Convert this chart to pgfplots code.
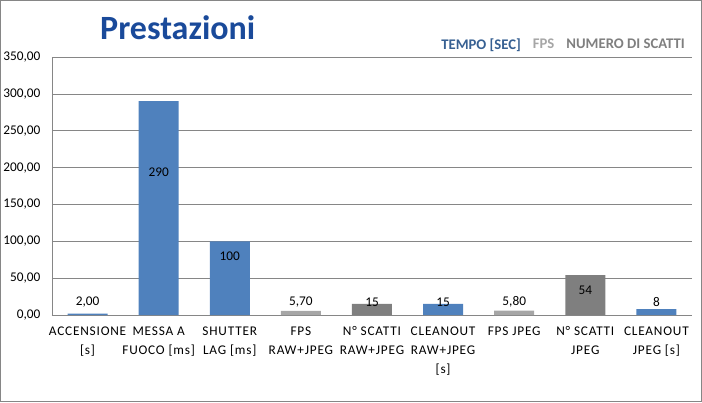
\documentclass[border=0pt]{standalone}
\usepackage{pgfplots}
\pgfplotsset{compat=1.18}
\usepackage{fontspec}
\setmainfont{Carlito}
\newfontfamily\xlfont[LetterSpace=6]{Carlito}
\definecolor{barblue}{HTML}{4F81BD}
\definecolor{barlight}{HTML}{A6A6A6}
\definecolor{bardark}{HTML}{7F7F7F}
\definecolor{titleblue}{HTML}{1A4A9A}
\definecolor{legblue}{HTML}{376092}
\definecolor{gridc}{HTML}{868686}
\begin{document}
\begin{tikzpicture}
\begin{axis}[
  name=ax,
  at={(0,0)}, anchor=south west,
  scale only axis,
  width=640pt, height=258pt,
  xmin=-0.5, xmax=8.5,
  ymin=0, ymax=350,
  ytick={0,50,...,350},
  xtick={0,...,8},
  xticklabels={ACCENSIONE\\{[s]}, MESSA A\\FUOCO [ms], SHUTTER\\LAG [ms], FPS\\RAW+JPEG, N° SCATTI\\RAW+JPEG, CLEANOUT\\RAW+JPEG\\{[s]}, FPS JPEG, N° SCATTI\\JPEG, CLEANOUT\\JPEG [s]},
  xticklabel style={align=center, font=\xlfont\fontsize{13.3}{19}\selectfont, anchor=north, yshift=-8pt},
  yticklabel style={font=\fontsize{13.3}{15}\selectfont, xshift=-8pt},
  /pgf/number format/assume math mode=true,
  /pgf/number format/.cd, fixed, fixed zerofill, precision=2, use comma, 1000 sep={},
  /pgfplots/.cd,
  major tick length=0pt,
  ymajorgrids,
  grid style={gridc, line width=0.6pt},
  axis x line*=bottom,
  axis y line*=left,
  axis line style={gridc, line width=0.6pt},
  ybar,
  bar width=0.5625,
  legend style={draw=none, fill=none, at={(1,1)}, anchor=south east, xshift=-2pt, yshift=2pt,
    font=\fontsize{14.7}{17}\selectfont\bfseries, legend columns=3,
    /tikz/every even column/.append style={column sep=8pt}},
  legend image code/.code={},
]
\addplot[draw=none, fill=barblue, bar shift=0pt] coordinates {(0,2) (1,290) (2,100) (5,15) (8,8)};
\addlegendentry{\textcolor{legblue}{TEMPO [SEC]}}
\addplot[draw=none, fill=barlight, bar shift=0pt] coordinates {(3,5.7) (6,5.8)};
\addlegendentry{\textcolor{barlight}{FPS}}
\addplot[draw=none, fill=bardark, bar shift=0pt] coordinates {(4,15) (7,54)};
\addlegendentry{\textcolor{bardark}{NUMERO DI SCATTI}}
\addplot[forget plot, only marks, mark=none, bar shift=0pt,
  nodes near coords, point meta=explicit symbolic,
  every node near coord/.style={anchor=center, font=\fontsize{13.3}{15}\selectfont, text=black}]
  table[x=x, y=y, meta=lab] {
x y lab
0 17.6 2,00
1 194 290
2 80 100
3 17.6 5,70
4 17.6 15
5 17.6 15
6 17.6 5,80
7 34 54
8 17.6 8
};
\end{axis}
\draw[gridc, line width=0.8pt] ([shift={(-51.6pt,-86.6pt)}]ax.south west) rectangle ([shift={(-52pt+701.6pt,-87pt+401.6pt)}]ax.south west);
\useasboundingbox ([shift={(-52pt,-87pt)}]ax.south west) rectangle ([shift={(650pt,315pt)}]ax.south west);
\node[anchor=base west, font=\fontsize{34}{38}\selectfont\bfseries, text=titleblue, inner sep=0pt] at ([shift={(48pt,275pt)}]ax.south west) {Prestazioni};
\end{tikzpicture}
\end{document}
